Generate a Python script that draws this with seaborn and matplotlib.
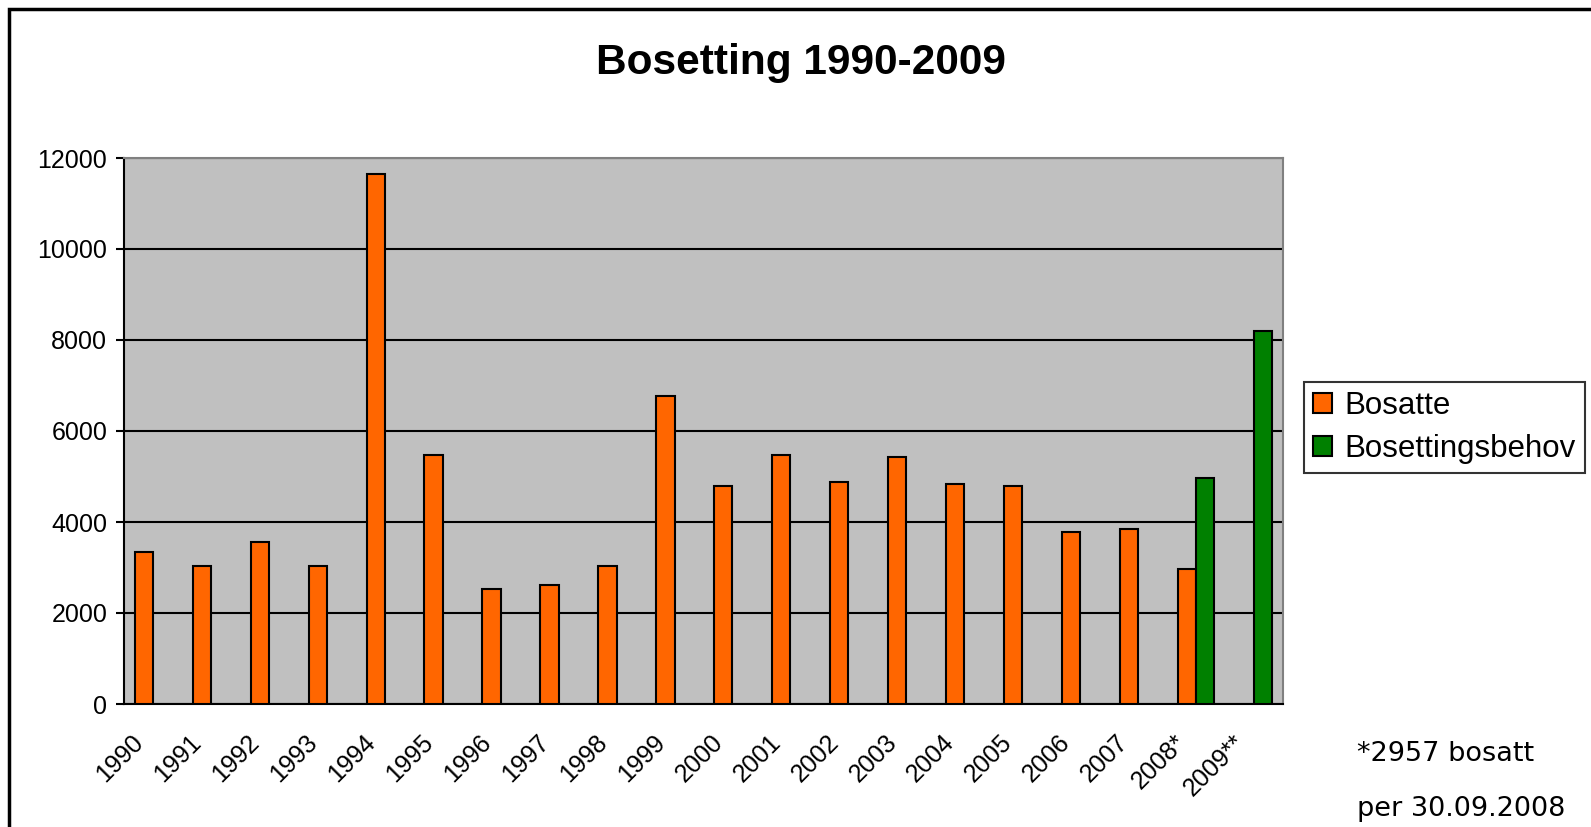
import pandas as pd
import numpy as np
import matplotlib.pyplot as plt
import matplotlib.transforms as mtransforms
from matplotlib.patches import Rectangle
import seaborn as sns

# Data
years = ['1990', '1991', '1992', '1993', '1994', '1995', '1996', '1997', '1998', '1999',
         '2000', '2001', '2002', '2003', '2004', '2005', '2006', '2007', '2008*', '2009**']
bosatte = [3350, 3030, 3570, 3030, 11640, 5465, 2520, 2610, 3030, 6760,
           4800, 5465, 4885, 5420, 4840, 4800, 3790, 3840, 2957, np.nan]
behov = [np.nan] * 18 + [4975, 8200]
series_names = ['Bosatte', 'Bosettingsbehov']
colors = ['#FF6600', '#008000']

df = pd.DataFrame({
    'year': years * 2,
    'serie': [series_names[0]] * len(years) + [series_names[1]] * len(years),
    'value': bosatte + behov,
})

W, H = 1591, 827

sns.set_style('white')
plt.rcParams['font.family'] = ['Liberation Sans', 'DejaVu Sans']
plt.rcParams['text.color'] = 'black'
plt.rcParams['xtick.color'] = 'black'
plt.rcParams['ytick.color'] = 'black'
plt.rcParams['axes.labelcolor'] = 'black'

fig = plt.figure(figsize=(W / 100, H / 100), dpi=100)
ax = fig.add_axes([124 / W, 1 - 704 / H, (1283 - 124) / W, (704 - 158) / H])
ax.set_facecolor('#C0C0C0')

sns.barplot(data=df, x='year', y='value', hue='serie', hue_order=series_names,
            palette=colors, saturation=1, width=0.63, errorbar=None, edgecolor='black',
            linewidth=1.5, ax=ax, zorder=3)

ax.set_xlim(-0.5, len(years) - 0.5)
ax.set_ylim(0, 12000)
ax.set_yticks(range(0, 12001, 2000))
ax.yaxis.grid(True, color='black', linewidth=1.5, zorder=1)
ax.set_axisbelow(True)
ax.set_xlabel('')
ax.set_ylabel('')

for s in ['left', 'bottom']:
    ax.spines[s].set_color('black')
    ax.spines[s].set_linewidth(1.5)
for s in ['top', 'right']:
    ax.spines[s].set_color('#808080')
    ax.spines[s].set_linewidth(1.5)

# tick marks between the categories, labels at the categories
ax.set_xticks(np.arange(-0.5, len(years), 1), minor=True)
ax.tick_params(axis='x', which='minor', length=8, width=1.5, color='black', direction='out')
ax.tick_params(axis='x', which='major', length=0, labelsize=18, pad=19)
ax.tick_params(axis='y', length=6, width=1.5, color='black', direction='out', left=True,
               labelsize=18, pad=6)
ax.set_xticks(range(len(years)))
ax.set_xticklabels(years, rotation=45, ha='right', rotation_mode='anchor')
shift = mtransforms.ScaledTranslation(-22 / 100, 0, fig.dpi_scale_trans)
for lab in ax.get_xticklabels():
    lab.set_transform(lab.get_transform() + shift)

# legend
handles, labels = ax.get_legend_handles_labels()
ax.legend(handles, labels, loc='upper left',
          bbox_to_anchor=(1304 / W, 1 - 382 / H), bbox_transform=fig.transFigure,
          fontsize=22.5, frameon=True, fancybox=False, edgecolor='black',
          handlelength=0.6, handleheight=0.6, handletextpad=0.4,
          borderpad=0.3, labelspacing=0.4, borderaxespad=0)
ax.get_legend().get_frame().set_linewidth(1.5)

fig.text(801 / W, 1 - 63 / H, 'Bosetting 1990-2009', ha='center', va='center',
         fontsize=30.5, fontweight='bold')
fig.text(1357 / W, 1 - 754 / H, '*2957 bosatt', ha='left', va='center',
         fontsize=19.5, family='DejaVu Sans')
fig.text(1357 / W, 1 - 809 / H, 'per 30.09.2008', ha='left', va='center',
         fontsize=19.5, family='DejaVu Sans')

# outer chart border (right and bottom edges run off the picture)
fig.patches.append(Rectangle((9 / W, -0.05), 1.1, 1.05 - 9 / H,
                             transform=fig.transFigure, fill=False,
                             edgecolor='black', linewidth=2.5))

fig.savefig('out.png', dpi=100)
